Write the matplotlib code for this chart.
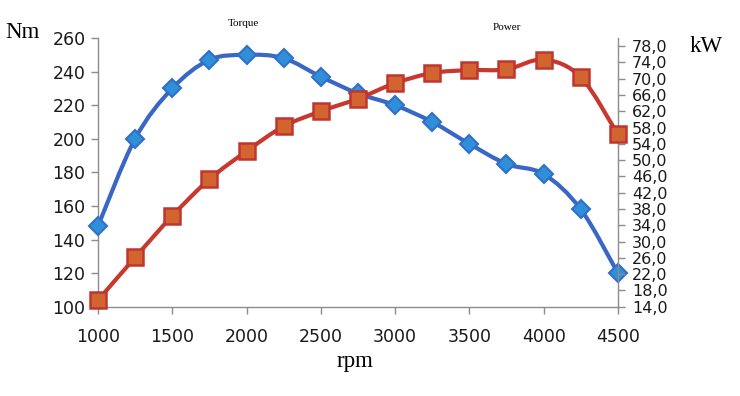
import numpy as np
import matplotlib
matplotlib.use("Agg")
import matplotlib.pyplot as plt
from matplotlib.path import Path
from matplotlib.patches import PathPatch

# Data
rpm = [1000, 1250, 1500, 1750, 2000, 2250, 2500, 2750, 3000, 3250, 3500, 3750, 4000, 4250, 4500]
torque_nm = [148, 200, 230, 247, 250, 248, 237, 227, 220, 210, 197, 185, 179, 158, 120]
power_kw = [15.6, 26.1, 36.3, 45.3, 52.2, 58.3, 62.0, 65.1, 68.9, 71.4, 72.1, 72.3, 74.7, 70.4, 56.3]

nm_ticks = list(range(100, 261, 20))
kw_ticks = list(range(14, 79, 4))
kw_labels = [f"{v},0" for v in kw_ticks]


def smooth_line(ax, x, y, color, lw):
    # Excel-like smoothed line: cubic Bezier through the points (in display space)
    pts = ax.transData.transform(np.column_stack([x, y]))
    verts = [pts[0]]
    codes = [Path.MOVETO]
    n = len(pts)
    for i in range(n - 1):
        p0 = pts[i - 1] if i > 0 else pts[i]
        p1 = pts[i]
        p2 = pts[i + 1]
        p3 = pts[i + 2] if i + 2 < n else pts[i + 1]
        c1 = p1 + (p2 - p0) / 6.0
        c2 = p2 - (p3 - p1) / 6.0
        verts += [c1, c2, p2]
        codes += [Path.CURVE4] * 3
    path = Path(verts, codes)
    patch = PathPatch(path, facecolor="none", edgecolor=color, lw=lw,
                      transform=None, capstyle="round", joinstyle="round", zorder=2)
    ax.add_artist(patch)


fig = plt.figure(figsize=(7.4, 3.96), dpi=100)
ax = fig.add_axes([0.1324, 0.2255, 0.835 - 0.1324, 0.904 - 0.2255])
ax2 = ax.twinx()

ax.set_xlim(1000, 4500)
ax.set_ylim(100, 260)
ax2.set_ylim(14, 80)

gray = "#8c8c8c"
for a in (ax, ax2):
    for s in a.spines.values():
        s.set_visible(False)
    a.tick_params(colors=gray, labelcolor="#1a1a1a", length=5, width=1)
ax.spines["left"].set_visible(True)
ax.spines["bottom"].set_visible(True)
ax2.spines["right"].set_visible(True)
for s in (ax.spines["left"], ax.spines["bottom"], ax2.spines["right"]):
    s.set_color(gray)
    s.set_linewidth(1)

ax.set_xticks(range(1000, 4501, 500))
ax.set_yticks(nm_ticks)
ax2.set_yticks(kw_ticks)
ax2.set_yticklabels(kw_labels, fontfamily=["Liberation Sans Narrow", "DejaVu Sans"],
                    fontsize=11.5)
ax.tick_params(axis="both", labelsize=12.5, pad=4)
ax.tick_params(axis="x", pad=10)
ax2.tick_params(axis="y", pad=5)

fig.canvas.draw()

smooth_line(ax, rpm, torque_nm, "#3a66c6", 3)
smooth_line(ax2, rpm, power_kw, "#c8382e", 3)

ax.plot(rpm, torque_nm, linestyle="none", marker="D", markersize=9,
        markerfacecolor="#2f8fd8", markeredgecolor="#3070c8", markeredgewidth=1.5,
        clip_on=False, zorder=3)
ax2.plot(rpm, power_kw, linestyle="none", marker="s", markersize=11,
         markerfacecolor="#d2642f", markeredgecolor="#c03530", markeredgewidth=1.8,
         clip_on=False, zorder=3)

serif = "Liberation Serif"
fig.text(5 / 740, 1 - 33 / 396, "Nm", fontsize=16.5, family=serif, va="center", ha="left")
fig.text(690 / 740, 1 - 46 / 396, "kW", fontsize=16.5, family=serif, va="center", ha="left")
fig.text(355 / 740, 1 - 362 / 396, "rpm", fontsize=16.5, family=serif, va="center", ha="center")
fig.text(243 / 740, 1 - 24 / 396, "Torque", fontsize=8, family=serif, va="center", ha="center")
fig.text(507 / 740, 1 - 28 / 396, "Power", fontsize=8, family=serif, va="center", ha="center")

fig.savefig("out.png", dpi=100)
